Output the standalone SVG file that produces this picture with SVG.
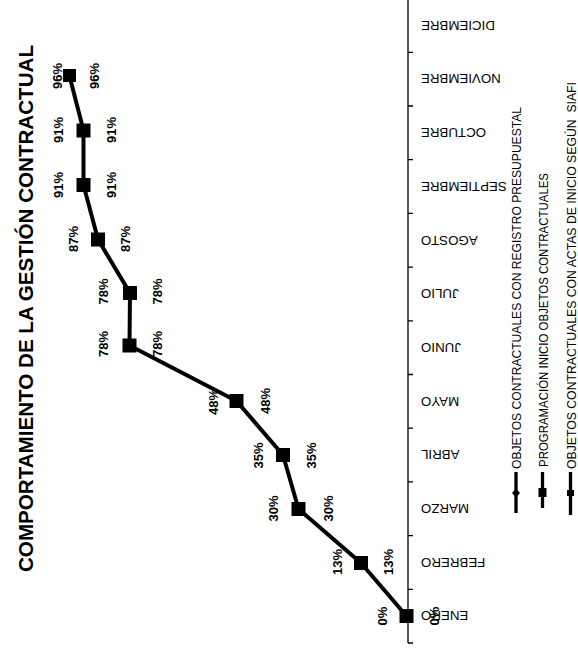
<svg xmlns="http://www.w3.org/2000/svg" width="578" height="650" viewBox="0 0 578 650">
<style>
.t{font-family:"Liberation Sans",Arial,sans-serif;font-weight:bold;font-size:20.5px;fill:#000}
.m{font-family:"Liberation Sans",Arial,sans-serif;font-size:13.3px;fill:#000;text-anchor:end}
.p{font-family:"Liberation Sans",Arial,sans-serif;font-weight:bold;font-size:13px;fill:#000;text-anchor:middle}
.lg{font-family:"Liberation Sans",Arial,sans-serif;font-size:12px;fill:#000}
.ax{stroke:#000;stroke-width:1.3;fill:none}
.ser{stroke:#000;stroke-width:4;fill:none;stroke-linejoin:round}
.mk{fill:#000}
.ll{stroke:#000;stroke-width:3.3;fill:none}
</style>
<rect width="578" height="650" fill="#fff"/>
<g id="title">
<text class="t" transform="translate(33 572) rotate(-90)" textLength="527" lengthAdjust="spacingAndGlyphs">COMPORTAMIENTO DE LA GESTIÓN CONTRACTUAL</text>
</g>
<g id="axis">
<path class="ax" d="M408 0V643M408 643H413M408 589.3H413M408 535.6H413M408 481.9H413M408 428.2H413M408 374.5H413M408 320.8H413M408 267.1H413M408 213.4H413M408 159.7H413M408 106H413M408 52.3H413"/>
</g>
<g id="months">
<text class="m" x="421" y="621" transform="rotate(180 421 616.2)">ENERO</text>
<text class="m" x="421" y="567.3" transform="rotate(180 421 562.5)">FEBRERO</text>
<text class="m" x="421" y="513.6" transform="rotate(180 421 508.8)">MARZO</text>
<text class="m" x="421" y="459.8" transform="rotate(180 421 455)">ABRIL</text>
<text class="m" x="421" y="406.2" transform="rotate(180 421 401.4)">MAYO</text>
<text class="m" x="421" y="352.5" transform="rotate(180 421 347.7)">JUNIO</text>
<text class="m" x="421" y="298.8" transform="rotate(180 421 294)">JULIO</text>
<text class="m" x="421" y="245.1" transform="rotate(180 421 240.3)">AGOSTO</text>
<text class="m" x="421" y="191.4" transform="rotate(180 421 186.6)">SEPTIEMBRE</text>
<text class="m" x="421" y="137.7" transform="rotate(180 421 132.9)">OCTUBRE</text>
<text class="m" x="421" y="84" transform="rotate(180 421 79.2)">NOVIEMBRE</text>
<text class="m" x="421" y="30.3" transform="rotate(180 421 25.5)">DICIEMBRE</text>
</g>
<g id="labels">
<text class="p" transform="translate(387 616) rotate(-90)">0%</text>
<text class="p" transform="translate(342 562) rotate(-90)">13%</text>
<text class="p" transform="translate(393 562) rotate(-90)">13%</text>
<text class="p" transform="translate(278 508.5) rotate(-90)">30%</text>
<text class="p" transform="translate(333 508.5) rotate(-90)">30%</text>
<text class="p" transform="translate(263 455.5) rotate(-90)">35%</text>
<text class="p" transform="translate(316 455.5) rotate(-90)">35%</text>
<text class="p" transform="translate(218 402) rotate(-90)">48%</text>
<text class="p" transform="translate(270 401) rotate(-90)">48%</text>
<text class="p" transform="translate(108 344) rotate(-90)">78%</text>
<text class="p" transform="translate(162 344) rotate(-90)">78%</text>
<text class="p" transform="translate(108 291.5) rotate(-90)">78%</text>
<text class="p" transform="translate(162 291.5) rotate(-90)">78%</text>
<text class="p" transform="translate(78 239) rotate(-90)">87%</text>
<text class="p" transform="translate(130 239) rotate(-90)">87%</text>
<text class="p" transform="translate(63 185) rotate(-90)">91%</text>
<text class="p" transform="translate(116 185) rotate(-90)">91%</text>
<text class="p" transform="translate(63 130) rotate(-90)">91%</text>
<text class="p" transform="translate(116 130) rotate(-90)">91%</text>
<text class="p" transform="translate(62 76) rotate(-90)">96%</text>
<text class="p" transform="translate(99 76) rotate(-90)">96%</text>
</g>
<g id="connectors">
<polyline class="ser" points="406.5,616 361,563 298.5,509 283,455 236.5,401 129.5,345.5 130,293 98,239.5 83.5,185 83.5,130.5 69.5,76"/>
</g>
<g id="markers">
<rect class="mk" x="399.5" y="609" width="14" height="14"/>
<rect class="mk" x="354" y="556" width="14" height="14"/>
<rect class="mk" x="291.5" y="502" width="14" height="14"/>
<rect class="mk" x="276" y="448" width="14" height="14"/>
<rect class="mk" x="229.5" y="394" width="14" height="14"/>
<rect class="mk" x="122.5" y="338.5" width="14" height="14"/>
<rect class="mk" x="123" y="286" width="14" height="14"/>
<rect class="mk" x="91" y="232.5" width="14" height="14"/>
<rect class="mk" x="76.5" y="178" width="14" height="14"/>
<rect class="mk" x="76.5" y="123.5" width="14" height="14"/>
<rect class="mk" x="63" y="69" width="13" height="13"/>
<text class="p" transform="translate(439 616) rotate(-90)">0%</text>
</g>
<g id="legend">
<g id="leg1">
<line class="ll" x1="516" y1="472" x2="516" y2="513"/>
<polygon class="mk" points="516,488.5 520,493 516,497.5 512,493"/>
<text class="lg" transform="translate(521 469) rotate(-90)" textLength="362" lengthAdjust="spacingAndGlyphs">OBJETOS CONTRACTUALES CON REGISTRO PRESUPUESTAL</text>
</g>
<g id="leg2">
<line class="ll" x1="542.5" y1="472" x2="542.5" y2="508"/>
<rect class="mk" x="538.5" y="488" width="8" height="9"/>
<text class="lg" transform="translate(547.5 467) rotate(-90)" textLength="294" lengthAdjust="spacingAndGlyphs">PROGRAMACIÓN INICIO OBJETOS CONTRACTUALES</text>
</g>
<g id="leg3">
<line class="ll" x1="570.5" y1="472" x2="570.5" y2="515"/>
<rect class="mk" x="567" y="490" width="7" height="6"/>
<text class="lg" xml:space="preserve" transform="translate(575.5 469) rotate(-90)" textLength="387" lengthAdjust="spacingAndGlyphs">OBJETOS CONTRACTUALES CON ACTAS DE INICIO SEGÚN  SIAFI</text>
</g>
</g>
</svg>
